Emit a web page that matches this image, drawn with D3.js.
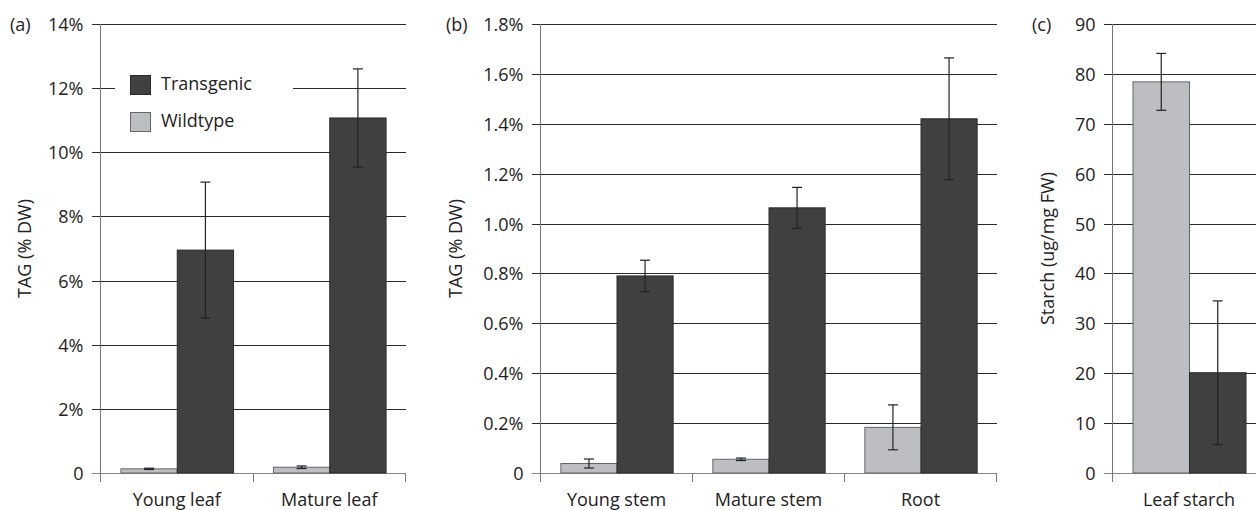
<!DOCTYPE html>
<html>
<head>
<meta charset="utf-8">
<script src="https://cdn.jsdelivr.net/npm/d3@7"></script>
<style>
  body { margin: 0; background: #fff; }
  svg { display: block; font-family: "Open Sans", sans-serif; }
</style>
</head>
<body>
<div id="chart"></div>
<script>
// series (left bar = wildtype, right bar = transgenic)
const seriesNames = ["Wildtype", "Transgenic"];
const legendOrder = ["Transgenic", "Wildtype"];

// panel (a) leaves, TAG % DW
const tissuesA = ["Young leaf", "Mature leaf"];
const wildA = [0.13, 0.18];
const wildErrA = [0.02, 0.04];
const transA = [6.95, 11.07];
const transErrA = [2.12, 1.53];
const ticksA = [0, 2, 4, 6, 8, 10, 12, 14];

// panel (b) stems and root, TAG % DW
const tissuesB = ["Young stem", "Mature stem", "Root"];
const wildB = [0.038, 0.055, 0.183];
const wildErrB = [0.018, 0.005, 0.09];
const transB = [0.79, 1.063, 1.42];
const transErrB = [0.063, 0.082, 0.244];
const ticksB = [0, 0.2, 0.4, 0.6, 0.8, 1.0, 1.2, 1.4, 1.6, 1.8];

// panel (c) leaf starch, ug/mg FW
const tissuesC = ["Leaf starch"];
const wildC = [78.4];
const wildErrC = [5.7];
const transC = [20.1];
const transErrC = [14.4];
const ticksC = [0, 10, 20, 30, 40, 50, 60, 70, 80, 90];

function init() {
    const width = 1256;
    const height = 510;
    const top = 24, bottom = 473;
    const fs = "18px";

    const colors = { Wildtype: "#bdbec2", Transgenic: "#404040" };
    const strokes = { Wildtype: "#666", Transgenic: "#2a2a2a" };

    const svg = d3.select("#chart")
        .append("svg")
        .attr("width", width)
        .attr("height", height);

    function drawPanel(p) {
        const g = svg.append("g");

        const y = d3.scaleLinear()
            .domain([0, p.ticks[p.ticks.length - 1]])
            .range([bottom, top]);

        const x0 = d3.scaleBand()
            .domain(p.cats)
            .range([p.left, p.right]);

        const x1 = d3.scaleBand()
            .domain(seriesNames)
            .range([0, x0.bandwidth()])
            .paddingOuter(0.354);

        const plotW = p.gridRight - p.left;

        // gridlines + tick marks
        const axis = d3.axisLeft(y)
            .tickValues(p.ticks)
            .tickSizeInner(-plotW)
            .tickSizeOuter(0)
            .tickPadding(0)
            .tickFormat(p.format);

        const ax = g.append("g")
            .attr("transform", `translate(${p.left},0)`)
            .call(axis);
        ax.select(".domain").remove();
        ax.selectAll(".tick line")
            .attr("x1", -9)
            .attr("stroke", d => d === 0 ? "#888" : "#2b2b2b")
            .attr("shape-rendering", "crispEdges");
        ax.selectAll(".tick text")
            .attr("x", -17)
            .attr("dy", "0.36em")
            .attr("fill", "#222")
            .style("font-size", fs)
            .style("font-family", "'Open Sans', sans-serif");

        if (p.legend) {
            const lg = g.append("g");
            lg.append("rect")
                .attr("x", 115).attr("y", 62)
                .attr("width", 178).attr("height", 76)
                .attr("fill", "#fff");
            legendOrder.forEach((s, i) => {
                lg.append("rect")
                    .attr("x", 130.5).attr("y", 75.5 + i * 37)
                    .attr("width", 20).attr("height", 19)
                    .attr("fill", colors[s])
                    .attr("stroke", strokes[s]);
                lg.append("text")
                    .attr("x", 161).attr("y", 90 + i * 37)
                    .attr("fill", "#222")
                    .style("font-size", fs)
                    .text(s);
            });
        }

        // y axis line
        g.append("line")
            .attr("x1", p.left).attr("x2", p.left)
            .attr("y1", top).attr("y2", 482)
            .attr("stroke", "#777")
            .attr("shape-rendering", "crispEdges");

        // category separators
        const seps = p.cats.map(c => x0(c) + x0.bandwidth());
        g.selectAll(".sep")
            .data(seps)
            .join("line")
            .attr("x1", d => d).attr("x2", d => d)
            .attr("y1", bottom).attr("y2", 482)
            .attr("stroke", "#777")
            .attr("shape-rendering", "crispEdges");

        const rows = p.cats.map((c, i) => ({
            cat: c,
            vals: [
                { s: "Wildtype", v: p.wild[i], e: p.wildErr[i] },
                { s: "Transgenic", v: p.trans[i], e: p.transErr[i] }
            ]
        }));

        const grp = g.selectAll(".cat")
            .data(rows)
            .join("g")
            .attr("transform", d => `translate(${x0(d.cat)},0)`);

        grp.selectAll("rect")
            .data(d => d.vals)
            .join("rect")
            .attr("x", d => x1(d.s) + 0.5)
            .attr("y", d => y(d.v))
            .attr("width", x1.bandwidth())
            .attr("height", d => bottom - y(d.v))
            .attr("fill", d => colors[d.s])
            .attr("stroke", d => strokes[d.s])
            .attr("stroke-width", 1);

        // error bars
        const eb = grp.selectAll(".err")
            .data(d => d.vals)
            .join("g")
            .attr("stroke", "#222")
            .attr("stroke-width", 1.2);
        const cx = d => x1(d.s) + x1.bandwidth() / 2 + 0.5;
        eb.append("line")
            .attr("x1", cx).attr("x2", cx)
            .attr("y1", d => y(d.v + d.e)).attr("y2", d => y(d.v - d.e));
        eb.append("line")
            .attr("x1", d => cx(d) - 5).attr("x2", d => cx(d) + 5)
            .attr("y1", d => y(d.v + d.e)).attr("y2", d => y(d.v + d.e));
        eb.append("line")
            .attr("x1", d => cx(d) - 5).attr("x2", d => cx(d) + 5)
            .attr("y1", d => y(d.v - d.e)).attr("y2", d => y(d.v - d.e));

        // category labels
        g.selectAll(".catlab")
            .data(p.cats)
            .join("text")
            .attr("x", d => x0(d) + x0.bandwidth() / 2)
            .attr("y", 506)
            .attr("text-anchor", "middle")
            .attr("fill", "#222")
            .style("font-size", fs)
            .text(d => d);

        // y title
        g.append("text")
            .attr("transform", `translate(${p.titleX},${(top + bottom) / 2}) rotate(-90)`)
            .attr("text-anchor", "middle")
            .attr("fill", "#222")
            .style("font-size", fs)
            .text(p.title);

        // panel letter
        g.append("text")
            .attr("x", p.letterX).attr("y", 31)
            .attr("fill", "#222")
            .style("font-size", fs)
            .text(p.letter);
    }

    const pct = d => d === 0 ? "0" : d3.format(".0f")(d) + "%";
    const pct1 = d => d === 0 ? "0" : d3.format(".1f")(d) + "%";

    drawPanel({
        cats: tissuesA, wild: wildA, wildErr: wildErrA, trans: transA, transErr: transErrA,
        ticks: ticksA, format: pct, left: 100.5, right: 405.5, gridRight: 405.5,
        title: "TAG (% DW)", titleX: 31, letter: "(a)", letterX: 10, legend: true
    });
    drawPanel({
        cats: tissuesB, wild: wildB, wildErr: wildErrB, trans: transB, transErr: transErrB,
        ticks: ticksB, format: pct1, left: 540.5, right: 996.5, gridRight: 996.5,
        title: "TAG (% DW)", titleX: 462, letter: "(b)", letterX: 446
    });
    drawPanel({
        cats: tissuesC, wild: wildC, wildErr: wildErrC, trans: transC, transErr: transErrC,
        ticks: ticksC, format: d3.format("d"), left: 1112.5, right: 1265.5, gridRight: 1260,
        title: "Starch (ug/mg FW)", titleX: 1054, letter: "(c)", letterX: 1032
    });
}

window.onload = init;
</script>
</body>
</html>
